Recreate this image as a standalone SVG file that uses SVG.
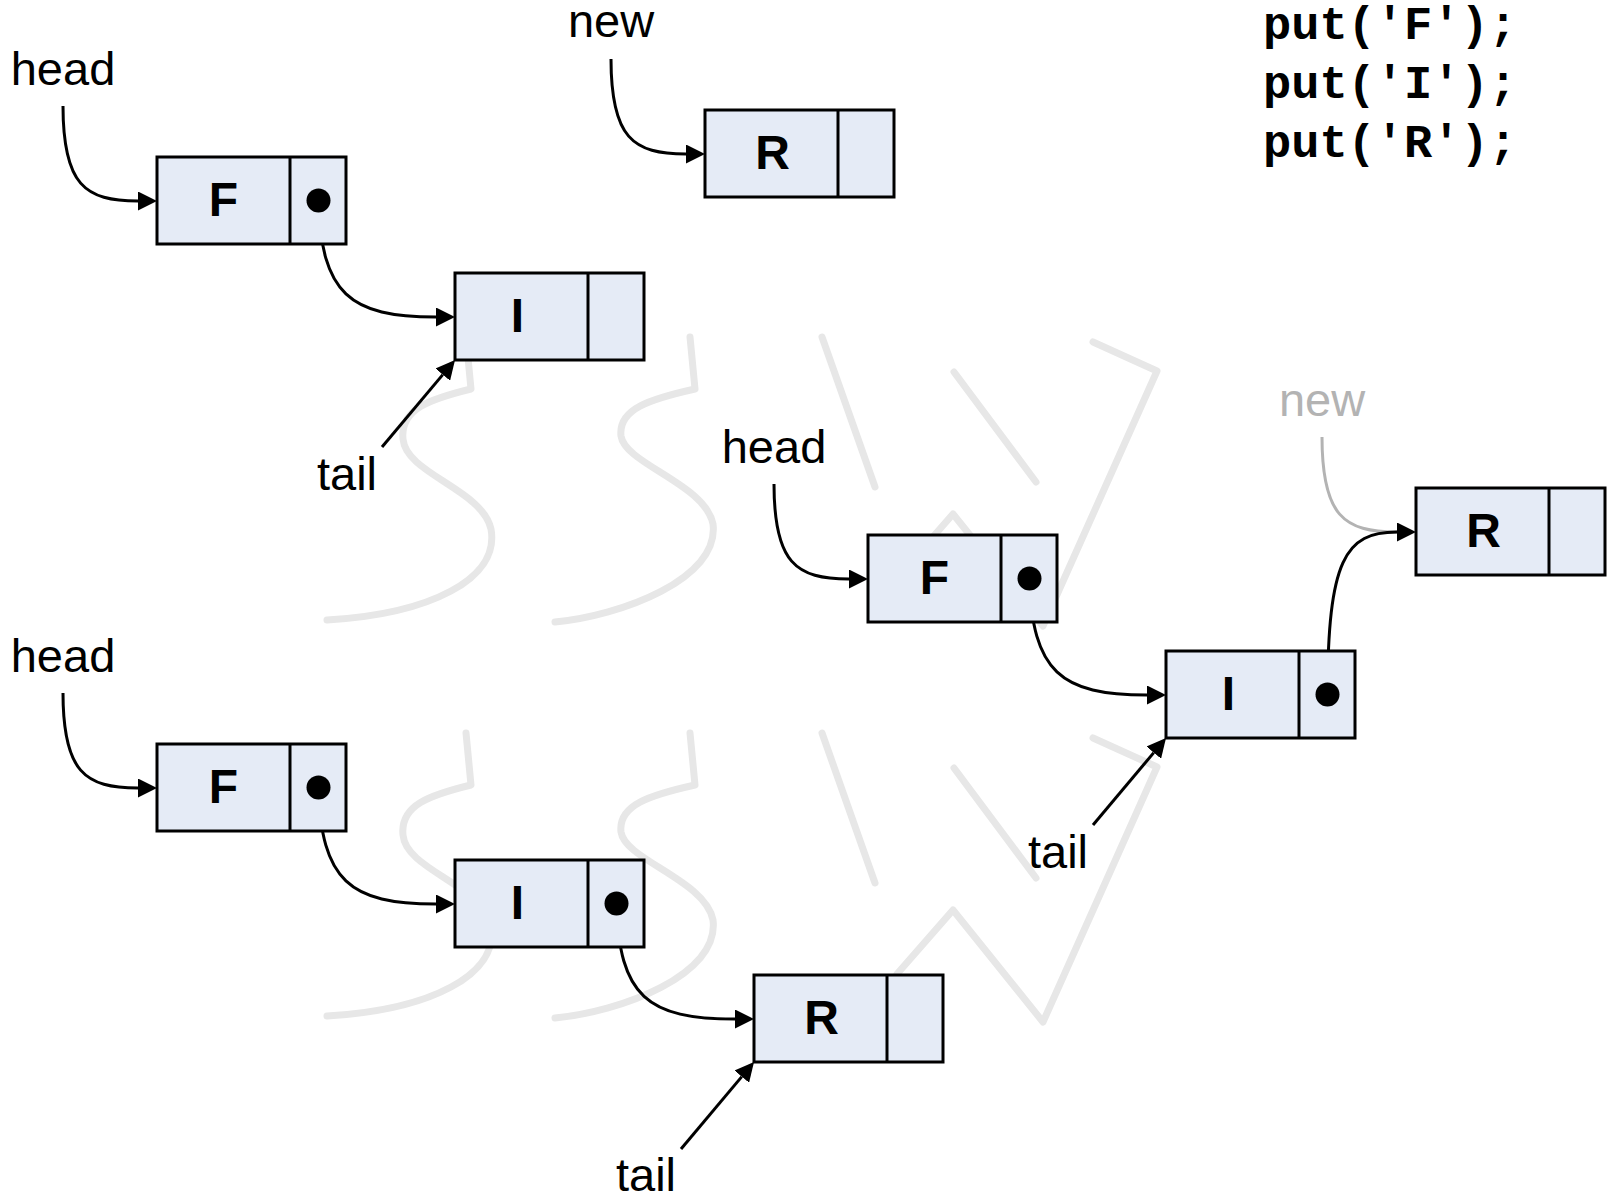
<svg xmlns="http://www.w3.org/2000/svg" width="1609" height="1199" viewBox="0 0 1609 1199">
<style>
.box{fill:#e5ebf6;stroke:#000;stroke-width:3}
.div{stroke:#000;stroke-width:3}
.dot{fill:#000}
.letter{font-family:"Liberation Sans",Arial,sans-serif;font-weight:bold;font-size:48px;fill:#000;text-anchor:middle}
.lbl{font-family:"Liberation Sans",Arial,sans-serif;font-size:47px;fill:#000;text-anchor:middle}
.code{font-family:"Liberation Mono","Courier New",monospace;font-weight:bold;font-size:47px;fill:#000}
.conn{fill:none;stroke:#000;stroke-width:3}
.gray{fill:none;stroke:#b3b3b3;stroke-width:3}
.wm{fill:none;stroke:#e7e7e7;stroke-width:7;stroke-linecap:round;stroke-linejoin:round}
</style>
<defs>
<marker id="ah" viewBox="0 0 19 19" markerWidth="19" markerHeight="19" refX="0" refY="9.5" orient="auto" markerUnits="userSpaceOnUse">
<path d="M0,0 L19,9.5 L0,19 Z" fill="#000"/>
</marker>
<g id="wmark">
<path d="M466,733 L471,785 C430,795 400,805 403,835 C406,870 482,885 491,925 C500,975 430,1010 327,1016"/>
<path d="M690,733 L695,785 C650,795 618,805 621,832 C625,860 705,880 713,920 C720,975 620,1012 555,1018"/>
<path d="M822,733 L875,883"/>
<path d="M954,768 L1036,878"/>
<path d="M897,974 L953,910 L1043,1022 L1157,767 L1093,738"/>
</g>
</defs>
<rect width="1609" height="1199" fill="#fff"/>
<g id="watermark" class="wm">
<use href="#wmark" transform="translate(0,-396)"/>
<use href="#wmark"/>
</g>

<g id="code">
<text class="code" x="1263" y="38.5">put('F');</text>
<text class="code" x="1263" y="97.5">put('I');</text>
<text class="code" x="1263" y="156.5">put('R');</text>
</g>

<g id="connectors">
<path class="conn" d="M63,106 C63,185 85,201 138,201" marker-end="url(#ah)"/>
<path class="conn" d="M611,59 C611,138 633,154 686,154" marker-end="url(#ah)"/>
<path class="conn" d="M318.5,200.5 C321,294 350,317 436,317" marker-end="url(#ah)"/>
<path class="conn" d="M382,447 L442.8,374.6" marker-end="url(#ah)"/>

<path class="conn" d="M774,484 C774,563 796,579 849,579" marker-end="url(#ah)"/>
<path class="gray" d="M1322,437 C1322,516 1344,532 1397,532"/>
<path class="conn" d="M1029.5,578.5 C1032,672 1061,695 1147,695" marker-end="url(#ah)"/>
<path class="conn" d="M1327.5,694.5 C1328,560 1345,532 1397,532" marker-end="url(#ah)"/>
<path class="conn" d="M1093,825 L1153.8,752.6" marker-end="url(#ah)"/>

<path class="conn" d="M63,693 C63,772 85,788 138,788" marker-end="url(#ah)"/>
<path class="conn" d="M318.5,787.5 C321,881 350,904 436,904" marker-end="url(#ah)"/>
<path class="conn" d="M616.5,903.5 C619,997 648,1019 735,1019" marker-end="url(#ah)"/>
<path class="conn" d="M681,1149 L741.8,1076.6" marker-end="url(#ah)"/>
</g>

<g id="label-head-1"><text class="lbl" x="63" y="85">head</text></g>
<g id="label-new-1"><text class="lbl" x="611" y="37">new</text></g>
<g id="label-tail-1"><text class="lbl" x="347" y="489.5">tail</text></g>
<g id="label-head-2"><text class="lbl" x="774" y="463">head</text></g>
<g id="label-new-2"><text class="lbl" x="1322" y="416" style="fill:#b3b3b3">new</text></g>
<g id="label-tail-2"><text class="lbl" x="1058" y="867.5">tail</text></g>
<g id="label-head-3"><text class="lbl" x="63" y="672">head</text></g>
<g id="label-tail-3"><text class="lbl" x="646" y="1191">tail</text></g>

<g id="node-F1"><rect class="box" x="157" y="157" width="189" height="87"/><line class="div" x1="290" y1="157" x2="290" y2="244"/><text class="letter" x="223.5" y="215.5">F</text><circle class="dot" cx="318.5" cy="200.5" r="12"/></g>
<g id="node-I1"><rect class="box" x="455" y="273" width="189" height="87"/><line class="div" x1="588" y1="273" x2="588" y2="360"/><text class="letter" x="517.5" y="331.5">I</text></g>
<g id="node-R1"><rect class="box" x="705" y="110" width="189" height="87"/><line class="div" x1="838" y1="110" x2="838" y2="197"/><text class="letter" x="772.5" y="168.5">R</text></g>

<g id="node-F2"><rect class="box" x="868" y="535" width="189" height="87"/><line class="div" x1="1001" y1="535" x2="1001" y2="622"/><text class="letter" x="934.5" y="593.5">F</text><circle class="dot" cx="1029.5" cy="578.5" r="12"/></g>
<g id="node-I2"><rect class="box" x="1166" y="651" width="189" height="87"/><line class="div" x1="1299" y1="651" x2="1299" y2="738"/><text class="letter" x="1228.5" y="709.5">I</text><circle class="dot" cx="1327.5" cy="694.5" r="12"/></g>
<g id="node-R2"><rect class="box" x="1416" y="488" width="189" height="87"/><line class="div" x1="1549" y1="488" x2="1549" y2="575"/><text class="letter" x="1483.5" y="546.5">R</text></g>

<g id="node-F3"><rect class="box" x="157" y="744" width="189" height="87"/><line class="div" x1="290" y1="744" x2="290" y2="831"/><text class="letter" x="223.5" y="802.5">F</text><circle class="dot" cx="318.5" cy="787.5" r="12"/></g>
<g id="node-I3"><rect class="box" x="455" y="860" width="189" height="87"/><line class="div" x1="588" y1="860" x2="588" y2="947"/><text class="letter" x="517.5" y="918.5">I</text><circle class="dot" cx="616.5" cy="903.5" r="12"/></g>
<g id="node-R3"><rect class="box" x="754" y="975" width="189" height="87"/><line class="div" x1="887" y1="975" x2="887" y2="1062"/><text class="letter" x="821.5" y="1033.5">R</text></g>
</svg>
